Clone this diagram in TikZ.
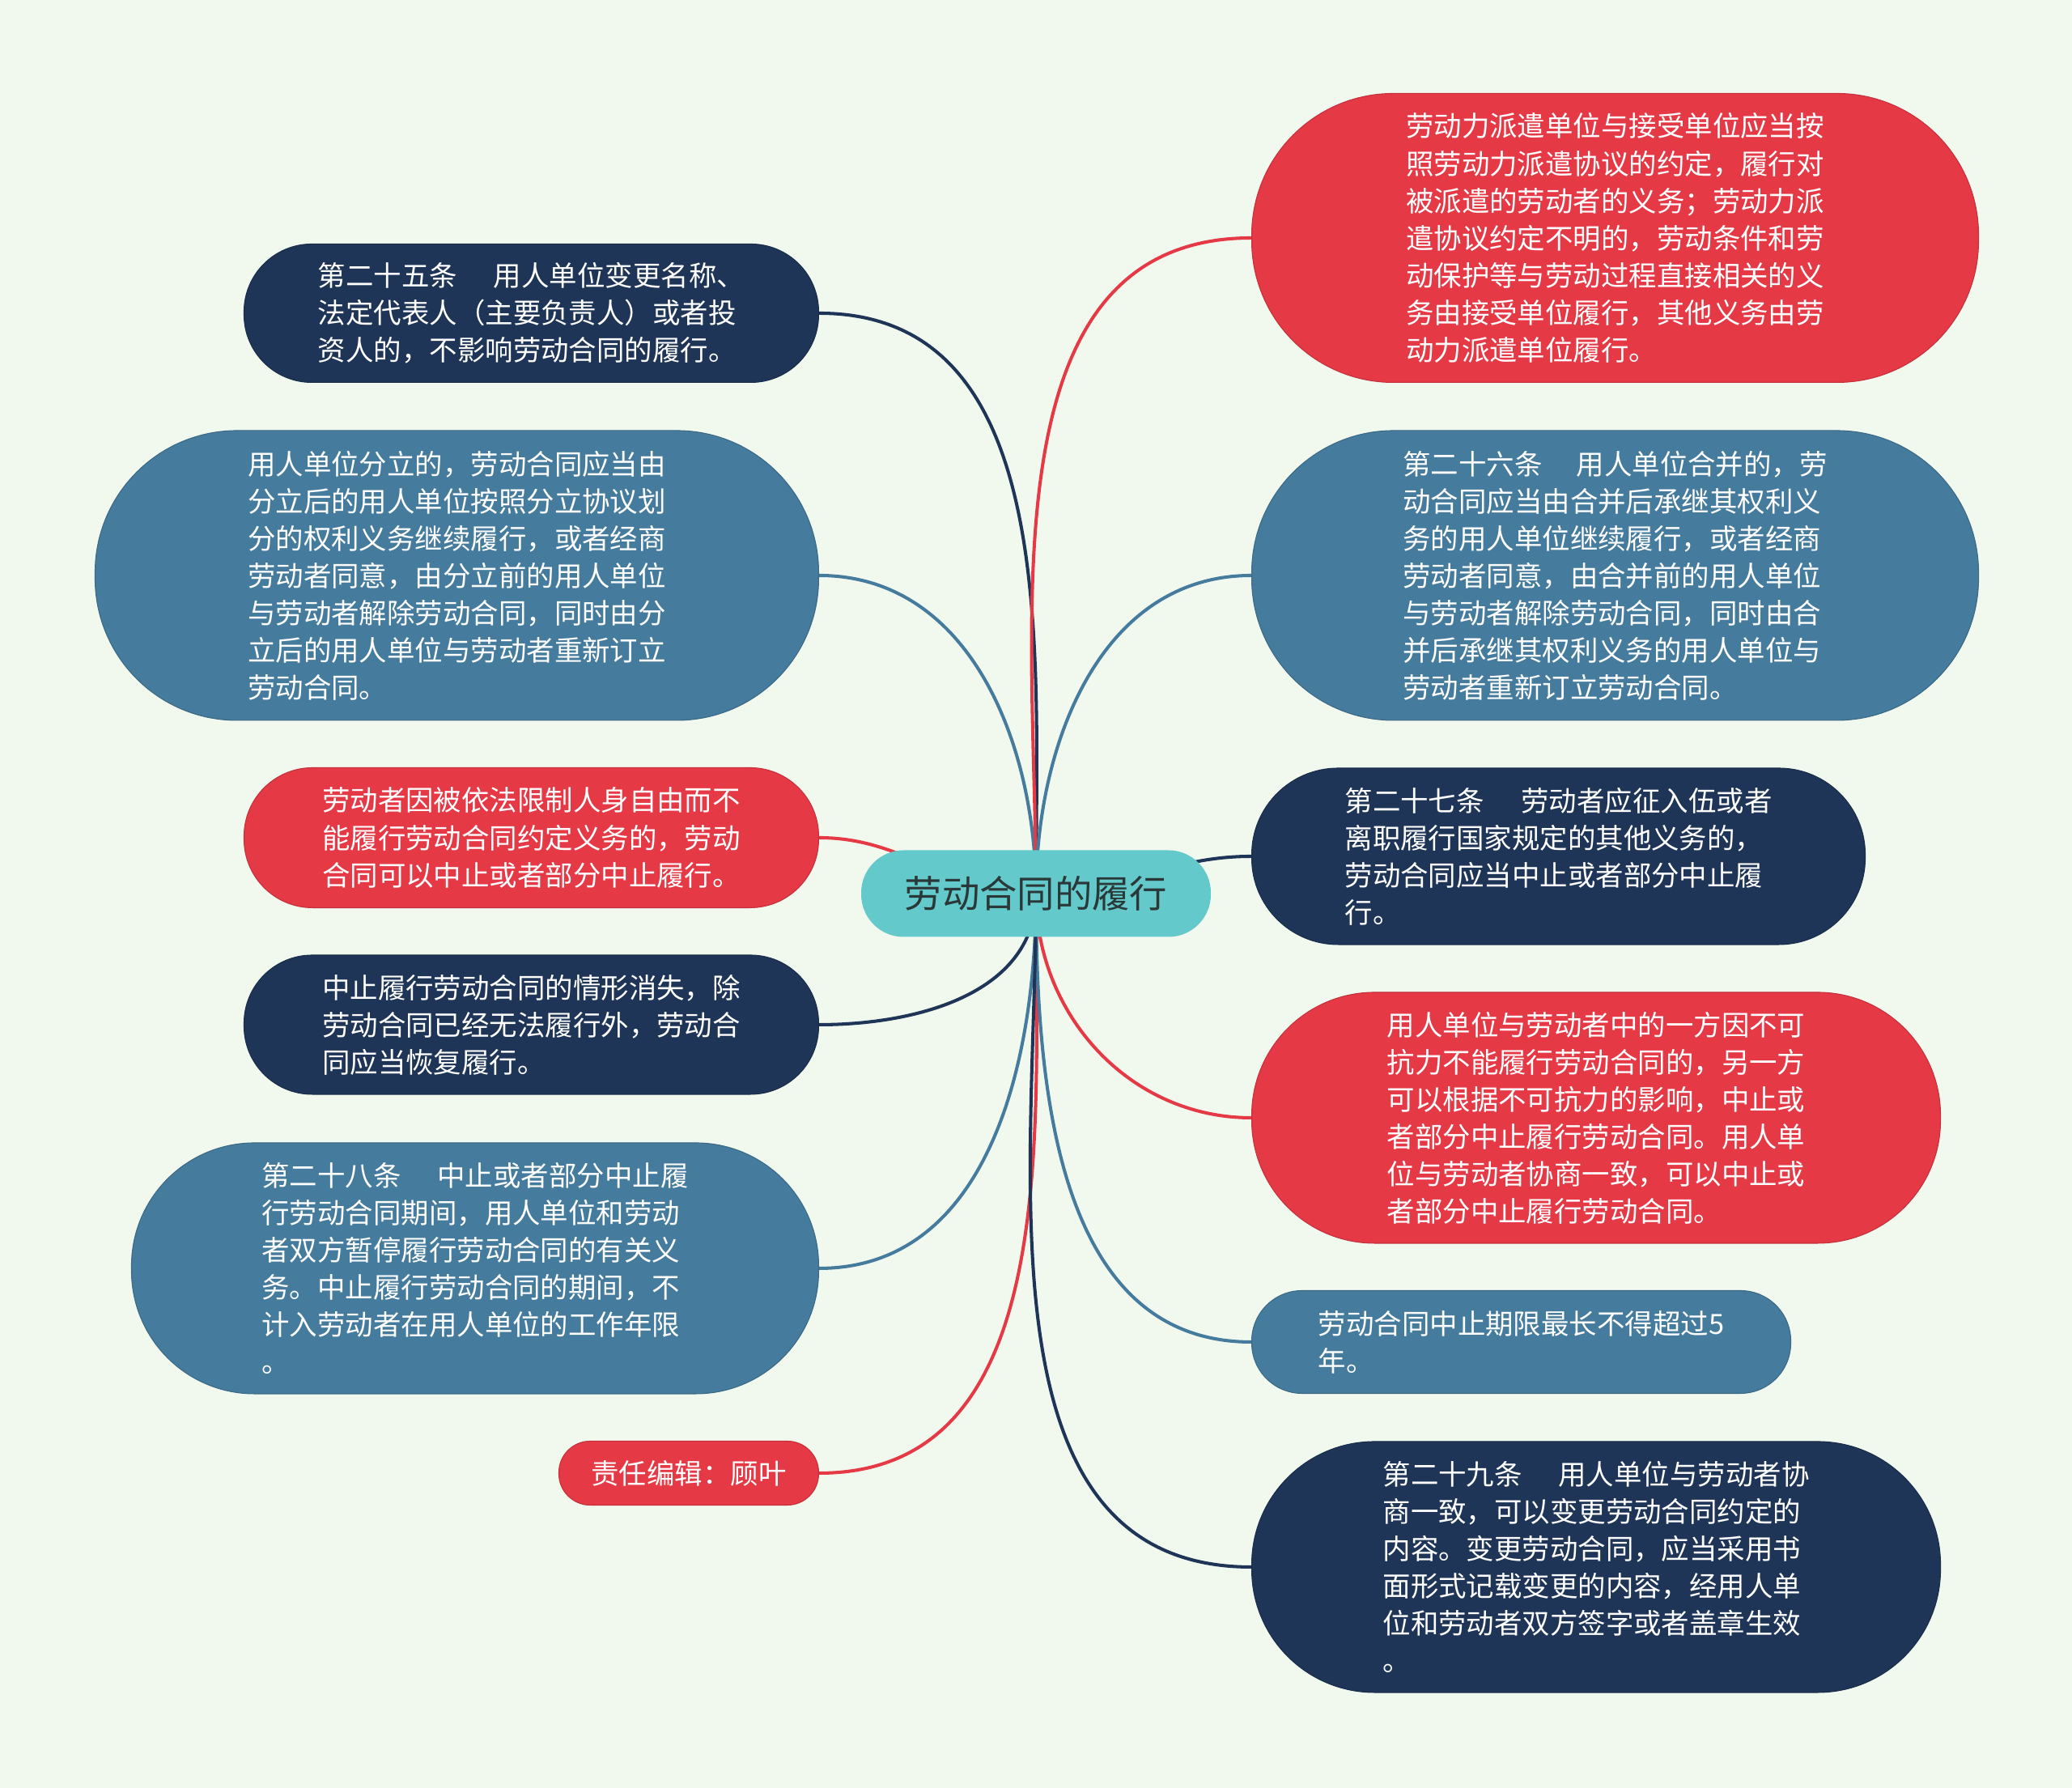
\documentclass[tikz,border=0pt]{standalone}
\usepackage{fontspec}
\newfontfamily\cjk{Noto Sans CJK SC}
\usetikzlibrary{backgrounds}
\definecolor{mpNavy}{HTML}{1E3557}
\definecolor{mpSteel}{HTML}{457B9D}
\definecolor{mpRed}{HTML}{E63946}
\definecolor{mpTeal}{HTML}{63C9CB}
\definecolor{mpBg}{HTML}{F1F9EF}
\definecolor{mpInk}{HTML}{2B3838}
\newcommand\artgap[1][1.3em]{\hspace{#1}}

\begin{document}
\begin{tikzpicture}[
  pill/.style 2 args={minimum width=#1cm, minimum height=#2cm,
                      rounded corners=#2*0.49cm, inner sep=0pt},
  leaf/.style={align=left, text=white,
               font=\cjk\fontsize{9.8}{13.1}\selectfont},
  navyleaf/.style={leaf, fill=mpNavy, draw=mpNavy!85!black, line width=0.3pt},
  steelleaf/.style={leaf, fill=mpSteel, draw=mpSteel!85!black, line width=0.3pt},
  redleaf/.style={leaf, fill=mpRed, draw=mpRed!85!black, line width=0.3pt},
  root/.style={fill=mpTeal, text=mpInk, font=\cjk\fontsize{13.2}{16}\selectfont},
  link/.style={draw=#1, line width=1.15pt},
]

\def\LX{10.12}  % right edge of the left column
\def\RX{15.46}  % left edge of the right column

\useasboundingbox (0,0) rectangle (25.6,22.09);

\node[root, pill={4.32}{1.07}] (root) at (12.80,11.05) {劳动合同的履行};

% left column
\node[navyleaf, pill={7.10}{1.71}, anchor=east] (l1) at (\LX,18.22)
  {第二十五条\artgap 用人单位变更名称、\\法定代表人（主要负责人）或者投\\资人的，不影响劳动合同的履行。};
\node[steelleaf, pill={8.94}{3.58}, anchor=east] (l2) at (\LX,14.98)
  {用人单位分立的，劳动合同应当由\\分立后的用人单位按照分立协议划\\分的权利义务继续履行，或者经商\\劳动者同意，由分立前的用人单位\\与劳动者解除劳动合同，同时由分\\立后的用人单位与劳动者重新订立\\劳动合同。};
\node[redleaf, pill={7.10}{1.73}, anchor=east] (l3) at (\LX,11.74)
  {劳动者因被依法限制人身自由而不\\能履行劳动合同约定义务的，劳动\\合同可以中止或者部分中止履行。};
\node[navyleaf, pill={7.10}{1.72}, anchor=east] (l4) at (\LX,9.43)
  {中止履行劳动合同的情形消失，除\\劳动合同已经无法履行外，劳动合\\同应当恢复履行。};
\node[steelleaf, pill={8.49}{3.10}, anchor=east] (l5) at (\LX,6.42)
  {第二十八条\artgap 中止或者部分中止履\\行劳动合同期间，用人单位和劳动\\者双方暂停履行劳动合同的有关义\\务。中止履行劳动合同的期间，不\\计入劳动者在用人单位的工作年限\\。};
\node[redleaf, pill={3.21}{0.79}, anchor=east] (l6) at (\LX,3.89)
  {责任编辑：顾叶};

% right column
\node[redleaf, pill={8.98}{3.57}, anchor=west] (r1) at (\RX,19.15)
  {劳动力派遣单位与接受单位应当按\\照劳动力派遣协议的约定，履行对\\被派遣的劳动者的义务；劳动力派\\遣协议约定不明的，劳动条件和劳\\动保护等与劳动过程直接相关的义\\务由接受单位履行，其他义务由劳\\动力派遣单位履行。};
\node[steelleaf, pill={8.98}{3.58}, anchor=west] (r2) at (\RX,14.98)
  {第二十六条\artgap[1em] 用人单位合并的，劳\\动合同应当由合并后承继其权利义\\务的用人单位继续履行，或者经商\\劳动者同意，由合并前的用人单位\\与劳动者解除劳动合同，同时由合\\并后承继其权利义务的用人单位与\\劳动者重新订立劳动合同。};
\node[navyleaf, pill={7.58}{2.18}, anchor=west] (r3) at (\RX,11.51)
  {第二十七条\artgap[1.1em] 劳动者应征入伍或者\\离职履行国家规定的其他义务的，\\劳动合同应当中止或者部分中止履\\行。};
\node[redleaf, pill={8.51}{3.10}, anchor=west] (r4) at (\RX,8.28)
  {用人单位与劳动者中的一方因不可\\抗力不能履行劳动合同的，另一方\\可以根据不可抗力的影响，中止或\\者部分中止履行劳动合同。用人单\\位与劳动者协商一致，可以中止或\\者部分中止履行劳动合同。};
\node[steelleaf, pill={6.66}{1.27}, anchor=west] (r5) at (\RX,5.51)
  {劳动合同中止期限最长不得超过5\\年。};
\node[navyleaf, pill={8.51}{3.10}, anchor=west] (r6) at (\RX,2.73)
  {第二十九条\artgap 用人单位与劳动者协\\商一致，可以变更劳动合同约定的\\内容。变更劳动合同，应当采用书\\面形式记载变更的内容，经用人单\\位和劳动者双方签字或者盖章生效\\。};

% page and branches behind the boxes
\begin{scope}[on background layer]
  \fill[mpBg] (0,0) rectangle (25.6,22.09);
  \draw[link=mpNavy]  (root.center) to[out=90,in=0]    (l1.east);
  \draw[link=mpSteel] (root.center) to[out=90,in=0]    (l2.east);
  \draw[link=mpRed]   (root.center) to[out=180,in=0]   (l3.east);
  \draw[link=mpNavy]  (root.center) to[out=-90,in=0]   (l4.east);
  \draw[link=mpSteel] (root.center) to[out=-90,in=0]   (l5.east);
  \draw[link=mpRed]   (root.center) to[out=-90,in=0]   (l6.east);
  \draw[link=mpRed]   (root.center) to[out=90,in=180]  (r1.west);
  \draw[link=mpSteel] (root.center) to[out=90,in=180]  (r2.west);
  \draw[link=mpNavy]  (root.center) to[out=0,in=180]   (r3.west);
  \draw[link=mpRed]   (root.center) to[out=-90,in=180] (r4.west);
  \draw[link=mpSteel] (root.center) to[out=-90,in=180] (r5.west);
  \draw[link=mpNavy]  (root.center) to[out=-90,in=180] (r6.west);
\end{scope}

\end{tikzpicture}
\end{document}
